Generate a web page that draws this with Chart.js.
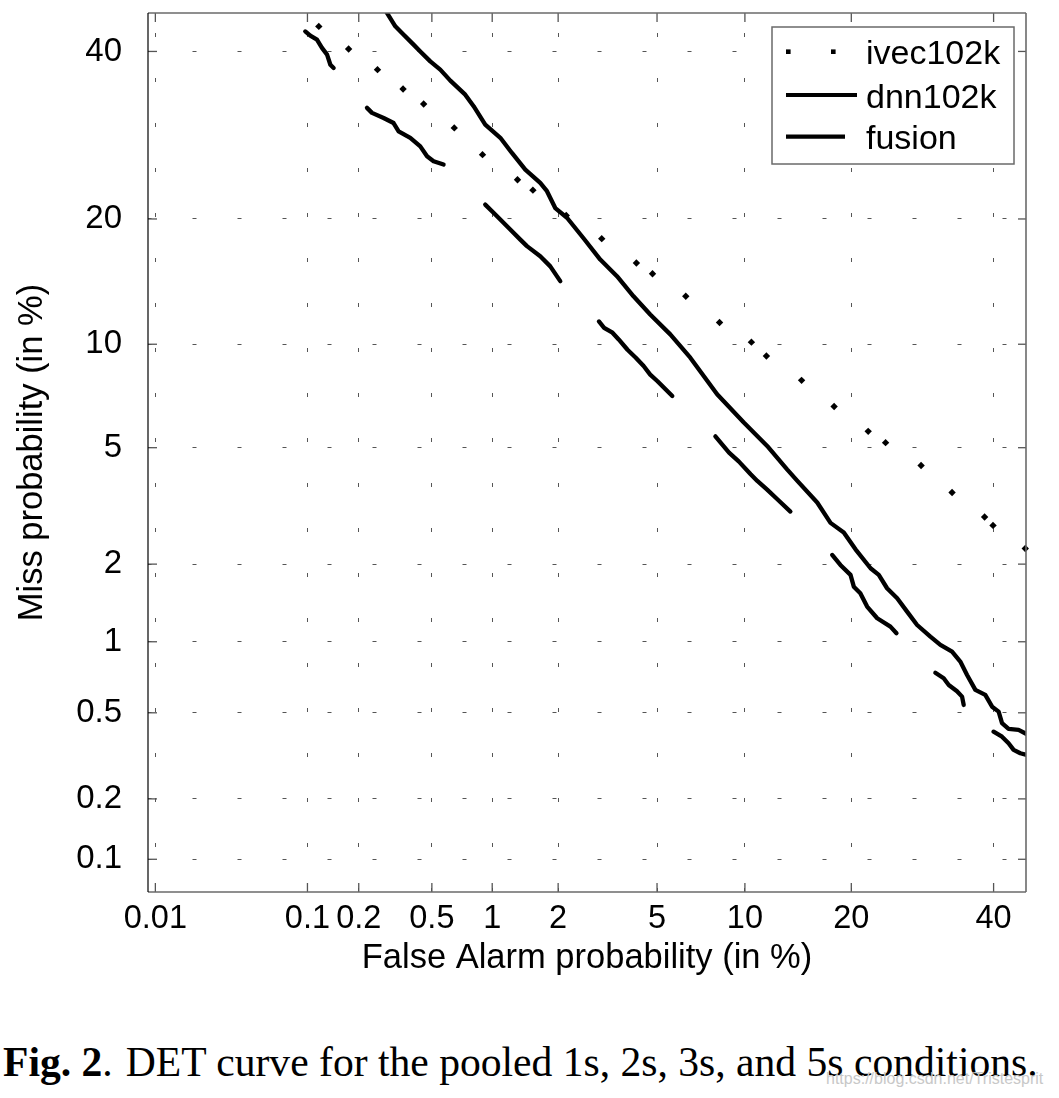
<!DOCTYPE html>
<html><head><meta charset="utf-8">
<script src="https://cdn.jsdelivr.net/npm/chart.js@4/dist/chart.umd.min.js"></script>
<style>
html,body{margin:0;padding:0;background:#fff;width:1059px;height:1098px;overflow:hidden;}
#wrap{position:absolute;left:0;top:0;width:1059px;height:1000px;}
#caption{position:absolute;left:3px;top:1041.5px;font-family:"Liberation Serif","Times New Roman",serif;font-size:41.6px;line-height:41.6px;white-space:nowrap;color:#000;}
#wm{position:absolute;left:826px;top:1071px;font-family:"Liberation Sans",Arial,sans-serif;font-size:16px;line-height:16px;color:#c8c8c8;white-space:nowrap;}
</style></head>
<body>
<div id="wrap"><canvas id="c"></canvas></div>
<div id="caption"><b>Fig. 2</b>.<span style="margin-left:13px">DET curve for the pooled 1s, 2s, 3s, and 5s conditions.</span></div>
<div id="wm">https://blog.csdn.net/Tristesprit</div>
<script>
// ---------- data (percent) ----------
const FA_TICKS = [0.01, 0.1, 0.2, 0.5, 1, 2, 5, 10, 20, 40];
const MISS_TICKS = [0.1, 0.2, 0.5, 1, 2, 5, 10, 20, 40];
const X_RANGE = [0.00886, 45.25];
const Y_RANGE = [0.0675, 45.29];

const ivecFA = [0.117, 0.175, 0.255, 0.352, 0.453, 0.651, 0.898, 1.315, 1.546, 2.168, 3.05, 4.18, 4.81, 6.35, 8.28, 10.48, 11.65, 14.75, 18.07, 22.01, 24.20, 29.01, 33.54, 38.57, 39.91, 45.13];
const ivecMiss = [43.43, 40.34, 37.55, 35.01, 33.08, 30.09, 26.90, 24.08, 22.95, 20.34, 18.12, 15.95, 15.06, 13.28, 11.41, 10.13, 9.29, 7.95, 6.68, 5.62, 5.185, 4.39, 3.576, 2.95, 2.757, 2.28];

const dnnFA = [0.285, 0.3196, 0.3472, 0.4007, 0.4349, 0.4906, 0.5525, 0.6219, 0.7388, 0.8127, 0.9258, 1.093, 1.239, 1.428, 1.668, 1.787, 1.943, 2.184, 2.566, 3.008, 3.511, 4.075, 4.716, 5.591, 6.586, 8.13, 9.92, 11.71, 13.41, 14.35, 16.29, 17.68, 19.14, 20.49, 22.30, 23.33, 24.39, 25.72, 27.06, 28.45, 30.34, 31.80, 33.54, 34.79, 35.83, 37.12, 38.68, 39.76, 40.81, 41.35, 42.41, 44.04, 45.41];
const dnnMiss = [45.47, 43.44, 42.52, 40.93, 40.0, 38.66, 37.55, 36.10, 34.27, 32.79, 30.49, 28.89, 27.10, 25.20, 23.73, 22.84, 21.09, 20.12, 18.16, 16.25, 14.86, 13.28, 11.96, 10.62, 9.196, 7.25, 5.978, 5.064, 4.262, 3.907, 3.308, 2.814, 2.604, 2.266, 1.931, 1.824, 1.624, 1.487, 1.319, 1.168, 1.049, 0.9704, 0.911, 0.8288, 0.7283, 0.6291, 0.5986, 0.532, 0.5058, 0.4496, 0.4237, 0.4194, 0.401];

const fusionFA = [0.0970, 0.1040, 0.1141, 0.1222, 0.1310, 0.1370, 0.1432,
  0.2227, 0.2377, 0.2757, 0.3127, 0.3331, 0.3849, 0.4349, 0.4719, 0.5103, 0.5745,
  0.9258, 1.0345, 1.217, 1.355, 1.453, 1.668, 1.848, 2.043,
  2.971, 3.119, 3.370, 3.567, 3.862, 4.158, 4.454, 4.716, 5.021, 5.372, 5.685,
  8.022, 8.896, 9.558, 10.425, 10.93, 11.71, 12.56, 13.71,
  17.86, 18.76, 19.91, 20.29, 21.06, 21.88, 23.13, 24.83, 25.63,
  31.06, 32.29, 33.04, 34.29, 35.06, 35.31,
  40.0, 41.35, 42.41, 43.23, 44.32, 45.41];
const fusionMiss = [42.74, 42.15, 41.60, 40.48, 39.57, 38.21, 37.77,
  32.58, 31.95, 31.31, 30.69, 29.68, 28.89, 27.87, 26.71, 26.15, 25.77,
  21.44, 20.44, 18.98, 18.03, 17.44, 16.54, 15.67, 14.46,
  11.48, 11.05, 10.73, 10.30, 9.664, 9.196, 8.722, 8.256, 7.903, 7.497, 7.169,
  5.423, 4.826, 4.525, 4.110, 3.907, 3.655, 3.392, 3.080,
  2.162, 1.986, 1.824, 1.647, 1.554, 1.381, 1.242, 1.151, 1.083,
  0.7448, 0.7052, 0.6606, 0.6203, 0.5884, 0.5413,
  0.412, 0.391, 0.3651, 0.3404, 0.3286, 0.3226];

// ---------- normal deviate helpers ----------
function probit(p) {
  const a = [-3.969683028665376e+01, 2.209460984245205e+02, -2.759285104469687e+02, 1.383577518672690e+02, -3.066479806614716e+01, 2.506628277459239e+00];
  const b = [-5.447609879822406e+01, 1.615858368580409e+02, -1.556989798598866e+02, 6.680131188771972e+01, -1.328068155288572e+01];
  const c = [-7.784894002430293e-03, -3.223964580411365e-01, -2.400758277161838e+00, -2.549671490537212e+00, 4.374664141464968e+00, 2.938163982698783e+00];
  const d = [7.784695709041462e-03, 3.224671290700398e-01, 2.445134137142996e+00, 3.754408661907416e+00];
  const plow = 0.02425, phigh = 1 - plow;
  let q, r;
  if (p < plow) {
    q = Math.sqrt(-2 * Math.log(p));
    return (((((c[0]*q+c[1])*q+c[2])*q+c[3])*q+c[4])*q+c[5]) / ((((d[0]*q+d[1])*q+d[2])*q+d[3])*q+1);
  }
  if (p <= phigh) {
    q = p - 0.5; r = q * q;
    return (((((a[0]*r+a[1])*r+a[2])*r+a[3])*r+a[4])*r+a[5])*q / (((((b[0]*r+b[1])*r+b[2])*r+b[3])*r+b[4])*r+1);
  }
  q = Math.sqrt(-2 * Math.log(1 - p));
  return -(((((c[0]*q+c[1])*q+c[2])*q+c[3])*q+c[4])*q+c[5]) / ((((d[0]*q+d[1])*q+d[2])*q+d[3])*q+1);
}
function normcdf(z) {
  const t = 1 / (1 + 0.2316419 * Math.abs(z));
  const y = t * (0.319381530 + t * (-0.356563782 + t * (1.781477937 + t * (-1.821255978 + t * 1.330274429))));
  const p = 1 - Math.exp(-z * z / 2) / Math.sqrt(2 * Math.PI) * y;
  return z >= 0 ? p : 1 - p;
}

// ---------- probit (DET) scale ----------
class ProbitScale extends Chart.LinearScale {
  determineDataLimits() { this.min = this.options.min; this.max = this.options.max; }
  buildTicks() { return (this.axis === 'x' ? FA_TICKS : MISS_TICKS).map(v => ({value: v})); }
  configure() {
    super.configure();
    this._pmin = probit(this.min / 100);
    this._pmax = probit(this.max / 100);
  }
  getPixelForValue(value) {
    if (value === null || value === undefined || isNaN(value)) return NaN;
    return this.getPixelForDecimal((probit(value / 100) - this._pmin) / (this._pmax - this._pmin));
  }
  getValueForPixel(pixel) {
    const z = this._pmin + this.getDecimalForPixel(pixel) * (this._pmax - this._pmin);
    return 100 * normcdf(z);
  }
}
ProbitScale.id = 'probit';
ProbitScale.defaults = {};
Chart.register(ProbitScale);

const toXY = (xs, ys) => xs.map((x, i) => ({x: x, y: ys[i]}));

Chart.defaults.font.family = '"Liberation Sans", Arial, Helvetica, sans-serif';
Chart.defaults.color = '#000';

const detDecor = {
  id: 'detDecor',
  afterDraw(chart) {
    const {ctx, chartArea: a, scales: {x, y}} = chart;
    const seg = (x1, y1, x2, y2) => { ctx.beginPath(); ctx.moveTo(x1, y1); ctx.lineTo(x2, y2); ctx.stroke(); };
    ctx.save();
    // inward tick marks on all four sides
    ctx.strokeStyle = '#555'; ctx.lineWidth = 1.3;
    x.ticks.forEach(t => { const px = x.getPixelForValue(t.value); seg(px, a.bottom, px, a.bottom - 9); seg(px, a.top, px, a.top + 9); });
    y.ticks.forEach(t => { const py = y.getPixelForValue(t.value); seg(a.left, py, a.left + 9, py); seg(a.right, py, a.right - 8, py); });
    // frame
    ctx.strokeStyle = '#6a6a6a'; ctx.lineWidth = 1.6;
    seg(a.left, a.top, a.right, a.top);
    seg(a.right, a.top, a.right, a.bottom);
    seg(a.left, a.bottom, a.right, a.bottom);
    ctx.strokeStyle = '#000'; ctx.lineWidth = 1.2;
    seg(a.left, a.top, a.left, a.bottom);
    // legend box
    const bx = 772, by = 27, bw = 242, bh = 137;
    ctx.fillStyle = '#fff'; ctx.fillRect(bx, by, bw, bh);
    ctx.strokeStyle = '#6a6a6a'; ctx.lineWidth = 1.5; ctx.strokeRect(bx, by, bw, bh);
    const ds = chart.data.datasets;
    const rows = [51.7, 95, 136.7];
    ctx.fillStyle = '#000'; ctx.strokeStyle = '#000';
    // ivec sample (dots)
    ctx.fillRect(786, rows[0] - 2.3, 4.6, 4.6);
    ctx.fillRect(831, rows[0] - 2.3, 4.6, 4.6);
    ctx.lineWidth = 4.2; ctx.lineCap = 'butt';
    seg(786, rows[1], 857, rows[1]);
    seg(786, rows[2], 845, rows[2]);
    ctx.font = '34px "Liberation Sans", Arial, sans-serif';
    ctx.textAlign = 'left'; ctx.textBaseline = 'middle';
    ds.forEach((d, i) => ctx.fillText(d.label, 866, rows[i] + 3.2));
    ctx.restore();
  }
};

const gapColor = ctx => (Math.hypot(ctx.p1.x - ctx.p0.x, ctx.p1.y - ctx.p0.y) > 30 ? 'rgba(0,0,0,0)' : '#000');

new Chart(document.getElementById('c'), {
  type: 'scatter',
  data: {
    datasets: [
      { label: 'ivec102k', data: toXY(ivecFA, ivecMiss), showLine: false, pointStyle: 'rectRot', pointRadius: 3.7, backgroundColor: '#000', borderColor: '#000', borderWidth: 0, clip: 6 },
      { label: 'dnn102k', data: toXY(dnnFA, dnnMiss), showLine: true, borderColor: '#000', borderWidth: 4.3, pointRadius: 0, tension: 0, borderCapStyle: 'round', borderJoinStyle: 'round', clip: 0 },
      { label: 'fusion', data: toXY(fusionFA, fusionMiss), showLine: true, borderColor: '#000', borderWidth: 4.3, pointRadius: 0, tension: 0, borderCapStyle: 'round', borderJoinStyle: 'round', clip: 0, segment: { borderColor: gapColor } }
    ]
  },
  options: {
    animation: false,
    responsive: true,
    maintainAspectRatio: false,
    devicePixelRatio: 1,
    layout: { padding: { left: 0, top: 13, right: 33, bottom: 0 } },
    plugins: { legend: { display: false }, tooltip: { enabled: false } },
    events: [],
    scales: {
      x: {
        type: 'probit', position: 'bottom', min: X_RANGE[0], max: X_RANGE[1],
        grid: { color: '#555', lineWidth: 1, drawTicks: false },
        border: { display: false, dash: [4, 41], dashOffset: 25 },
        ticks: { autoSkip: false, maxRotation: 0, minRotation: 0, padding: 8, font: { size: 32.5 }, color: '#000', callback: v => String(v) },
        title: { display: true, text: 'False Alarm probability (in %)', font: { size: 34.5 }, color: '#000', padding: { top: 0, bottom: 21 } },
        afterFit: s => { s.height = 108; s.paddingLeft = 0; s.paddingRight = 0; s.paddingTop = 0; s.paddingBottom = 0; }
      },
      y: {
        type: 'probit', position: 'left', min: Y_RANGE[0], max: Y_RANGE[1],
        grid: { color: '#555', lineWidth: 1, drawTicks: false },
        border: { display: false, dash: [4, 41], dashOffset: 0.5 },
        ticks: { autoSkip: false, padding: 26, font: { size: 33 }, color: '#000', callback: v => String(v) },
        title: { display: true, text: 'Miss probability (in %)', font: { size: 34.5 }, color: '#000', padding: { top: 12, bottom: 0 } },
        afterFit: s => { s.width = 148; s.paddingLeft = 0; s.paddingRight = 0; s.paddingTop = 0; s.paddingBottom = 0; }
      }
    }
  },
  plugins: [detDecor]
});
</script>
</body></html>
